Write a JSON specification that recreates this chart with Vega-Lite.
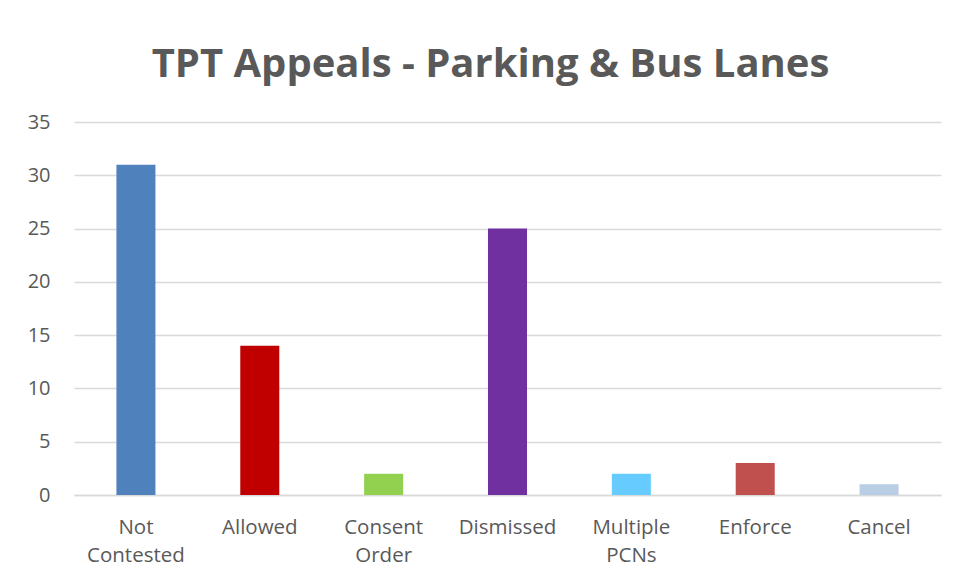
{
  "$schema": "https://vega.github.io/schema/vega-lite/v6.json",
  "width": 867,
  "height": 373,
  "autosize": {"type": "none"},
  "padding": {"left": 74, "top": 122, "right": 17, "bottom": 84},
  "background": "white",
  "title": {
    "text": "TPT Appeals - Parking & Bus Lanes",
    "font": "Open Sans",
    "fontWeight": "bold",
    "fontSize": 40,
    "color": "#595959",
    "anchor": "middle",
    "dx": -17,
    "offset": 27
  },
  "data": {
    "values": [
      {"category": "Not Contested", "value": 31, "color": "#4F81BD"},
      {"category": "Allowed", "value": 14, "color": "#C00000"},
      {"category": "Consent Order", "value": 2, "color": "#92D050"},
      {"category": "Dismissed", "value": 25, "color": "#7030A0"},
      {"category": "Multiple PCNs", "value": 2, "color": "#66CCFF"},
      {"category": "Enforce", "value": 3, "color": "#C0504D"},
      {"category": "Cancel", "value": 1, "color": "#B9CDE5"}
    ]
  },
  "mark": {"type": "bar"},
  "encoding": {
    "x": {
      "field": "category",
      "type": "nominal",
      "sort": null,
      "scale": {"paddingInner": 0.685, "paddingOuter": 0.3425},
      "axis": {
        "title": null,
        "labelAngle": 0,
        "labelExpr": "split(datum.label, ' ')",
        "labelFont": "Open Sans",
        "labelFontSize": 20.5,
        "labelColor": "#595959",
        "labelLineHeight": 28,
        "labelPadding": 22,
        "ticks": false,
        "domainColor": "#D9D9D9",
        "domainWidth": 1.5
      }
    },
    "y": {
      "field": "value",
      "type": "quantitative",
      "scale": {"domain": [0, 35], "nice": false},
      "axis": {
        "title": null,
        "values": [0, 5, 10, 15, 20, 25, 30, 35],
        "labelFont": "Open Sans",
        "labelFontSize": 20,
        "labelColor": "#595959",
        "labelPadding": 24,
        "ticks": false,
        "domain": false,
        "gridColor": "#D9D9D9",
        "gridWidth": 1.5
      }
    },
    "color": {"field": "color", "type": "nominal", "scale": null, "legend": null}
  },
  "config": {"view": {"stroke": null}}
}
